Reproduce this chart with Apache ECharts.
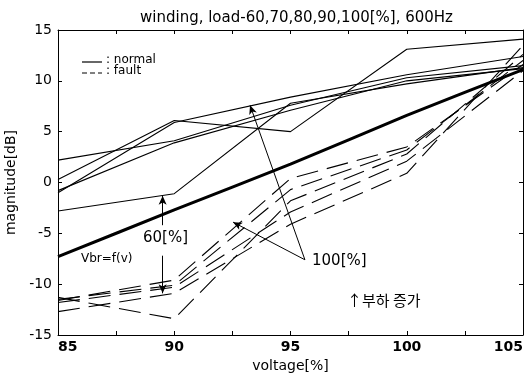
<!DOCTYPE html>
<html>
<head>
<meta charset="utf-8">
<script src="https://cdn.jsdelivr.net/npm/echarts@6/dist/echarts.min.js"></script>
<style>
  html, body { margin: 0; padding: 0; background: #fff; }
  #chart { width: 527px; height: 377px; }
</style>
</head>
<body>
<div id="chart"></div>
<script>
// voltage [%]
const voltage = [85, 90, 95, 100, 105]

// normal (solid thin) curves, magnitude [dB]
const normal1 = [2.2, 4.1, 7.6, 10.3, 11.5]
const normal2 = [0.3, 6.1, 5.0, 13.1, 14.1]
const normal3 = [-0.8, 3.9, 7.1, 10.0, 11.2]
const normal4 = [-1.0, 5.9, 8.4, 10.6, 12.4]
const normal5 = [-2.8, -1.1, 7.8, 9.7, 11.3]

// fault (dashed) curves
const fault1 = [-11.6, -9.6, 0.4, 3.5, 11.6]
const fault2 = [-11.5, -10.1, -0.7, 3.2, 12.0]
const fault3 = [-11.8, -10.3, -2.9, 2.1, 11.0]
const fault4 = [-12.7, -10.9, -4.1, 0.9, 13.5]
const fault5 = [-11.3, -13.4, -1.8, 2.8, 12.6]

// Vbr = f(v), thick
const vbr = [-7.3, -2.7, 1.8, 6.6, 11.1]

const yTicks = [-15, -10, -5, 0, 5, 10, 15]

const FONT = 'DejaVu Sans'
const pts = (ys) => voltage.map((x, i) => [x, ys[i]])

function normalSeries(ys) {
  return {
    type: 'line',
    data: pts(ys),
    symbol: 'none',
    lineStyle: { color: '#000', width: 1.1 },
    z: 3,
  }
}

function faultSeries(ys) {
  return {
    type: 'line',
    data: pts(ys),
    symbol: 'none',
    lineStyle: { color: '#000', width: 1.1, type: [22, 9] },
    z: 3,
  }
}

const arrowLine = { color: '#000', width: 1, type: 'solid' }

const chart = echarts.init(document.getElementById('chart'))
chart.setOption({
  backgroundColor: '#fff',
  animation: false,
  title: {
    text: 'winding, load-60,70,80,90,100[%], 600Hz',
    left: 135,
    top: 6,
    textStyle: { fontFamily: FONT, fontSize: 15, fontWeight: 'normal', color: '#000' },
  },
  grid: { left: 58, right: 4, top: 30, bottom: 42, outerBoundsMode: 'none', containLabel: false },
  xAxis: [
    {
      type: 'value',
      min: 85,
      max: 105,
      interval: 2.5,
      name: 'voltage[%]',
      nameLocation: 'middle',
      nameGap: 21,
      nameTextStyle: { fontFamily: FONT, fontSize: 14, color: '#000' },
      axisLine: { onZero: false, lineStyle: { color: '#000', width: 1 } },
      axisTick: { inside: true, length: 4, lineStyle: { color: '#000' } },
      axisLabel: {
        margin: 5,
        color: '#000',
        fontFamily: FONT,
        fontSize: 14,
        fontWeight: 'bold',
        alignMinLabel: 'left',
        alignMaxLabel: 'right',
        formatter: (v) => (v % 5 === 0 ? String(v) : ''),
      },
      splitLine: { show: false },
    },
    {
      type: 'value',
      position: 'top',
      min: 85,
      max: 105,
      interval: 2.5,
      axisLine: { onZero: false, lineStyle: { color: '#000', width: 1 } },
      axisTick: { inside: true, length: 4, lineStyle: { color: '#000' } },
      axisLabel: { show: false },
      splitLine: { show: false },
    },
  ],
  yAxis: [
    {
      type: 'value',
      min: yTicks[0],
      max: yTicks[yTicks.length - 1],
      interval: 5,
      name: 'magnitude[dB]',
      nameLocation: 'middle',
      nameGap: 40,
      nameTextStyle: { fontFamily: FONT, fontSize: 14, color: '#000' },
      axisLine: { show: true, onZero: false, lineStyle: { color: '#000', width: 1 } },
      axisTick: { show: true, inside: true, length: 4, lineStyle: { color: '#000' } },
      axisLabel: { margin: 6, color: '#000', fontFamily: FONT, fontSize: 14 },
      splitLine: { show: false },
    },
    {
      type: 'value',
      position: 'right',
      min: -15,
      max: 15,
      interval: 5,
      axisLine: { show: true, onZero: false, lineStyle: { color: '#000', width: 1 } },
      axisTick: { show: true, inside: true, length: 4, lineStyle: { color: '#000' } },
      axisLabel: { show: false },
      splitLine: { show: false },
    },
  ],
  series: [
    normalSeries(normal1),
    normalSeries(normal2),
    normalSeries(normal3),
    normalSeries(normal4),
    normalSeries(normal5),
    faultSeries(fault1),
    faultSeries(fault2),
    faultSeries(fault3),
    faultSeries(fault4),
    faultSeries(fault5),
    {
      type: 'line',
      data: pts(vbr),
      symbol: 'none',
      smooth: 0.2,
      lineStyle: { color: '#000', width: 3 },
      z: 4,
      markLine: {
        silent: true,
        symbolSize: [6, 9],
        label: { show: false },
        lineStyle: arrowLine,
        data: [
          // 60[%] double arrow, split around its label
          [{ coord: [89.5, -1.3], symbol: 'arrow' }, { coord: [89.5, -4.2], symbol: 'none' }],
          [{ coord: [89.5, -7.2], symbol: 'none' }, { coord: [89.5, -10.9], symbol: 'arrow' }],
          // 100[%] arrows
          [{ coord: [95.62, -7.6], symbol: 'none' }, { coord: [93.26, 7.6], symbol: 'arrow' }],
          [{ coord: [95.62, -7.6], symbol: 'none' }, { coord: [92.53, -3.9], symbol: 'arrow' }],
        ],
      },
    },
  ],
  graphic: [
    { type: 'line', z: 100, shape: { x1: 82, y1: 62, x2: 102, y2: 62 }, style: { stroke: '#000', lineWidth: 1.2 } },
    { type: 'text', z: 100, left: 106, top: 54, style: { text: ': normal', font: '12px "DejaVu Sans"', fill: '#000' } },
    { type: 'line', z: 100, shape: { x1: 82, y1: 73, x2: 102, y2: 73 }, style: { stroke: '#000', lineWidth: 1, lineDash: [5, 3] } },
    { type: 'text', z: 100, left: 106, top: 65, style: { text: ': fault', font: '12px "DejaVu Sans"', fill: '#000' } },
    { type: 'text', z: 100, left: 143, top: 231, style: { text: '60[%]', font: '15px "DejaVu Sans"', fill: '#000' } },
    { type: 'text', z: 100, left: 312, top: 254, style: { text: '100[%]', font: '15px "DejaVu Sans"', fill: '#000' } },
    { type: 'text', z: 100, left: 81, top: 253, style: { text: 'Vbr=f(v)', font: '12px "DejaVu Sans"', fill: '#000' } },
    { type: 'text', z: 100, left: 347, top: 293, style: { text: '↑부하 증가', font: '15px "Noto Sans CJK KR"', fill: '#000' } },
  ],
})
</script>
</body>
</html>
